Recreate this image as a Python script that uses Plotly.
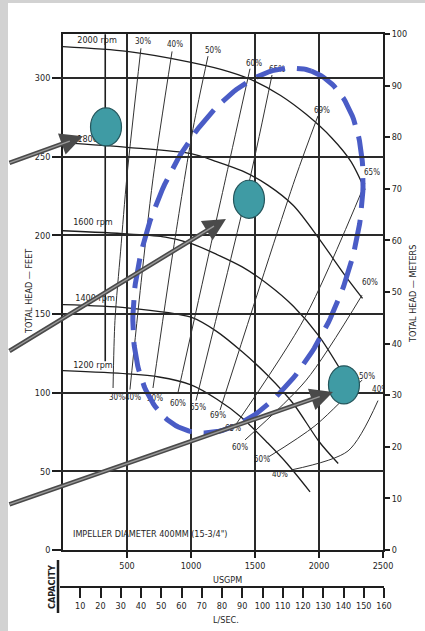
import numpy as np
import plotly.graph_objects as go

# ---------------- data ----------------
# head-capacity curves (USGPM, feet)
Q_2000 = [0, 500, 1000, 1300, 1500, 1700, 1900, 2100, 2250, 2360]
H_2000 = [320, 317, 310, 304, 298, 289, 277, 262, 247, 229]
Q_1800 = [0, 500, 1000, 1200, 1400, 1600, 1800, 2000, 2200, 2340]
H_1800 = [259, 256, 252, 247, 241, 232, 219, 198, 175, 160]
Q_1600 = [0, 500, 800, 1000, 1200, 1400, 1600, 1800, 2000, 2180]
H_1600 = [203, 201, 199, 195, 188, 180, 169, 155, 136, 113]
Q_1400 = [0, 500, 1000, 1200, 1400, 1600, 1800, 2000, 2150]
H_1400 = [156, 154, 148, 139, 126, 111, 93, 69, 55]
Q_1200 = [0, 500, 750, 1000, 1200, 1400, 1600, 1750, 1930]
H_1200 = [114, 112, 110, 105, 96, 84, 68, 55, 37]

RPM_LABELS = ["2000 rpm", "1800 rpm", "1600 rpm", "1400 rpm", "1200 rpm"]
RPM_LABEL_Q = [266, 266, 234, 250, 234]
RPM_LABEL_H = [323.5, 261, 208, 159.5, 117]

# iso-efficiency lines
EFF_LINES = {
    "30L": ([391, 406, 450, 500, 609], [103, 146, 190, 238, 319]),
    "40L": ([523, 610, 703, 852], [102, 170, 236, 317]),
    "50L": ([703, 860, 1016, 1133], [103, 190, 268, 314]),
    "60L": ([898, 1270, 1461], [100, 236, 306]),
    "65L": ([1039, 1460, 1633], [95, 236, 302]),
    "69": ([1227, 1813, 1992], [89, 236, 276]),
    "65R": ([1344, 1891, 2359], [79, 148, 233]),
    "60R": ([1422, 1900, 2336], [70, 108, 162]),
    "50R": ([1602, 1969, 2336], [59, 79, 108]),
    "40R": ([1789, 2227, 2461], [51, 63, 95]),
}
EFF_LABELS = ["30%", "40%", "50%", "60%", "65%", "69%", "65%", "60%", "50%", "40%",
              "30%", "40%", "50%", "60%", "65%", "69%", "65%", "60%", "50%", "40%"]
EFF_LABEL_Q = [625, 875, 1172, 1492, 1672, 2023, 2414, 2398, 2375, 2477,
               422, 547, 719, 898, 1055, 1211, 1328, 1383, 1555, 1695]
EFF_LABEL_H = [323, 321, 317, 309, 305, 279, 240, 170, 110, 102,
               96.5, 96.5, 96, 93, 90, 85, 77, 65, 57, 48]

LEADER_Q = [330, 330]
LEADER_H = [120, 328]

# overlays
CIRCLE_Q = [336, 1453, 2195]
CIRCLE_H = [269, 223, 105]
CIRCLE_HALF_W = 121   # gpm
CIRCLE_HALF_H = 12.1  # ft

ELLIPSE_CENTER = (1445, 190.5)
ELLIPSE_A = (495, 114)
ELLIPSE_B = (751, -22)

ARROW_TIP_Q = [156, 1273, 2109]
ARROW_TIP_H = [263, 210.5, 100.5]
ARROW_AX = [-75, -218, -325]
ARROW_AY = [27, 133, 113]

X_TICKS = [500, 1000, 1500, 2000, 2500]
Y_FT_TICKS = [0, 50, 100, 150, 200, 250, 300]
Y_M_TICKS = list(range(0, 101, 10))
LS_TICKS = list(range(10, 161, 10))

# ---------------- figure ----------------
W, H = 425, 631
ML, MR, MT, MB = 60, 41, 34, 31
PW, PH = W - ML - MR, H - MT - MB


def pxx(px):
    return (px - ML) / PW


def pxy(py):
    return (H - MB - py) / PH


FONT = "Liberation Sans Narrow, DejaVu Sans Condensed, Arial Narrow, Arial, sans-serif"
INK = "#1e1e1e"

fig = go.Figure()

# head curves
for q, h in [(Q_2000, H_2000), (Q_1800, H_1800), (Q_1600, H_1600),
             (Q_1400, H_1400), (Q_1200, H_1200)]:
    fig.add_trace(go.Scatter(x=q, y=h, mode="lines",
                             line=dict(color=INK, width=1.3, shape="spline", smoothing=0.8),
                             hoverinfo="skip", showlegend=False))

# efficiency lines
for key, (q, h) in EFF_LINES.items():
    fig.add_trace(go.Scatter(x=q, y=h, mode="lines",
                             line=dict(color="#333333", width=1.0, shape="spline", smoothing=0.8),
                             hoverinfo="skip", showlegend=False))

# leader line
fig.add_trace(go.Scatter(x=LEADER_Q, y=LEADER_H, mode="lines",
                         line=dict(color=INK, width=1.6), hoverinfo="skip", showlegend=False))

# labels
fig.add_trace(go.Scatter(x=RPM_LABEL_Q, y=RPM_LABEL_H, mode="text", text=RPM_LABELS,
                         textfont=dict(family=FONT, size=9, color=INK),
                         hoverinfo="skip", showlegend=False))
fig.add_trace(go.Scatter(x=EFF_LABEL_Q, y=EFF_LABEL_H, mode="text", text=EFF_LABELS,
                         textfont=dict(family=FONT, size=8, color=INK),
                         hoverinfo="skip", showlegend=False))

# blue dashed ellipse
t = np.linspace(0, 2 * np.pi, 240)
eq = ELLIPSE_CENTER[0] + ELLIPSE_A[0] * np.cos(t) + ELLIPSE_B[0] * np.sin(t)
eh = ELLIPSE_CENTER[1] + ELLIPSE_A[1] * np.cos(t) + ELLIPSE_B[1] * np.sin(t)
fig.add_trace(go.Scatter(x=eq, y=eh, mode="lines",
                         line=dict(color="#4a5cc6", width=5, dash="30px,12px"),
                         hoverinfo="skip", showlegend=False))

# dummy trace for L/sec axis
fig.add_trace(go.Scatter(x=[0, 160], y=[None, None], xaxis="x2", yaxis="y",
                         mode="lines", hoverinfo="skip", showlegend=False))
# dummy trace for meters axis
fig.add_trace(go.Scatter(x=[None], y=[None], xaxis="x", yaxis="y2",
                         mode="lines", hoverinfo="skip", showlegend=False))

shapes = []
# gray scan border
shapes.append(dict(type="rect", xref="paper", yref="paper", x0=pxx(0), x1=pxx(8),
                   y0=pxy(H), y1=pxy(0), fillcolor="#d2d2d2", line=dict(width=0), layer="below"))
shapes.append(dict(type="rect", xref="paper", yref="paper", x0=pxx(0), x1=pxx(W),
                   y0=pxy(3), y1=pxy(0), fillcolor="#d2d2d2", line=dict(width=0), layer="below"))
# capacity bracket line
shapes.append(dict(type="line", xref="paper", yref="paper", x0=pxx(58), x1=pxx(58),
                   y0=pxy(560), y1=pxy(613), line=dict(color=INK, width=2.5)))
# teal circles
for cq, ch in zip(CIRCLE_Q, CIRCLE_H):
    shapes.append(dict(type="circle", xref="x", yref="y",
                       x0=cq - CIRCLE_HALF_W, x1=cq + CIRCLE_HALF_W,
                       y0=ch - CIRCLE_HALF_H, y1=ch + CIRCLE_HALF_H,
                       fillcolor="#3f9ba4", line=dict(color="#25565c", width=1.2),
                       layer="above"))

annotations = []
# arrows
for q, h, ax, ay in zip(ARROW_TIP_Q, ARROW_TIP_H, ARROW_AX, ARROW_AY):
    annotations.append(dict(x=q, y=h, xref="x", yref="y", ax=ax, ay=ay, text="",
                            showarrow=True, arrowhead=2, arrowsize=1.0, arrowwidth=4.5,
                            arrowcolor="#4a4a4a"))
    annotations.append(dict(x=q, y=h, xref="x", yref="y", ax=ax, ay=ay, text="",
                            showarrow=True, arrowhead=0, arrowwidth=1.4, standoff=14,
                            arrowcolor="#9a9a9a"))

txt = dict(family=FONT, size=9, color=INK)


def label(px, py, text, angle=0, xanchor="center", font=txt):
    return dict(x=pxx(px), y=pxy(py), xref="paper", yref="paper", text=text,
                textangle=angle, showarrow=False, font=font,
                xanchor=xanchor, yanchor="middle")


annotations += [
    label(29, 292, "TOTAL HEAD — FEET", -90),
    label(413, 294, "TOTAL HEAD — METERS", -90),
    label(227, 580, "USGPM"),
    label(226, 620, "L/SEC."),
    label(52, 587, "<b>CAPACITY</b>", -90),
    label(71, 534, "IMPELLER DIAMETER 400MM (15-3/4\")", 0, "left"),
]

axis_common = dict(showline=True, linecolor=INK, linewidth=1.8, ticks="outside",
                   tickcolor=INK, tickfont=dict(family=FONT, size=9, color=INK),
                   zeroline=False)

fig.update_layout(
    width=W, height=H,
    margin=dict(l=ML, r=MR, t=MT, b=MB, pad=0),
    paper_bgcolor="white", plot_bgcolor="rgba(0,0,0,0)",
    showlegend=False,
    xaxis=dict(domain=[3 / PW, (PW - 1) / PW], range=[0, 2500], tickvals=X_TICKS,
               showgrid=True, gridcolor="#2a2a2a", gridwidth=1.8, mirror=True,
               ticklen=6, tickwidth=1.5, anchor="y", **axis_common),
    yaxis=dict(domain=[pxy(550), 1], range=[0, 328.084], tickvals=Y_FT_TICKS,
               showgrid=True, gridcolor="#2a2a2a", gridwidth=1.8, mirror=True,
               ticklen=9, tickwidth=1.5, anchor="x", **axis_common),
    yaxis2=dict(overlaying="y", side="right", range=[0, 100], tickvals=Y_M_TICKS,
                showgrid=False, ticklen=5, tickwidth=1.5, anchor="x", **axis_common),
    xaxis2=dict(domain=[0, 1], range=[0, 160], tickvals=LS_TICKS, anchor="free",
                position=pxy(587), showgrid=False, ticklen=10, tickwidth=2.2,
                **axis_common),
    shapes=shapes,
    annotations=annotations,
)

fig.write_html(
    "out.html",
    config={"displayModeBar": False},
    post_script=("document.body.style.margin='0';"
                 "document.body.style.overflow='hidden';"
                 "document.documentElement.style.overflow='hidden';"),
)
